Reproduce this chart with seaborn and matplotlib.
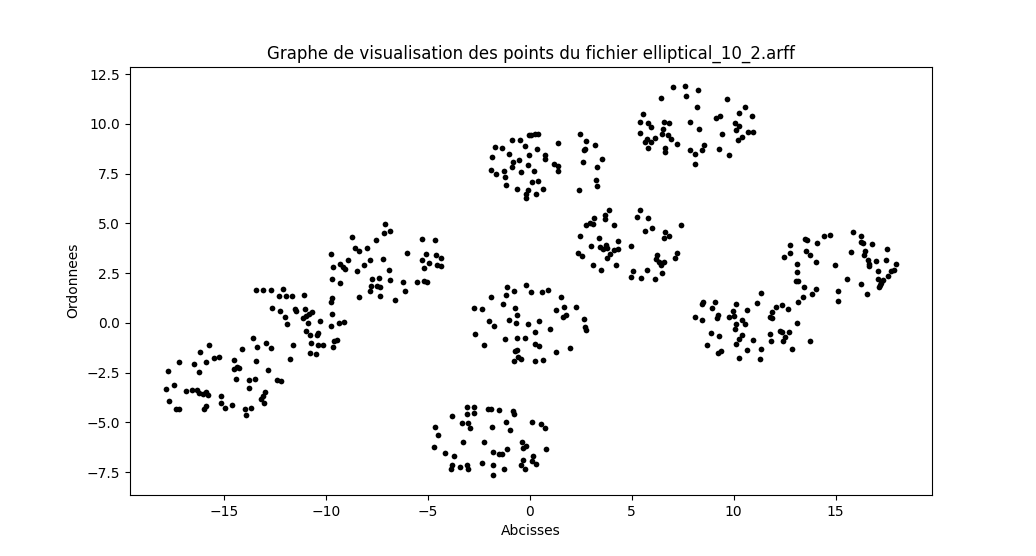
import matplotlib
matplotlib.use("Agg")
import matplotlib.pyplot as plt
import seaborn as sns
import pandas as pd

# Cluster near (0, 8)
x_c1 = [-0.86, -0.47, -0.05, -1.70, -1.35, -0.22, -1.84, -1.01, -0.05, -0.81, -0.52, -0.86, -0.09,
        -1.89, -1.63, -1.25, -0.42, -1.21, -1.16, -0.62, -0.09, -0.16, -0.19,
        0.08, 0.28, 0.39, 0.36, 0.75, 0.75, 1.39, 1.18, 1.39, 1.39, 0.20, 0.13, 0.41, 0.29, 0.65,
        2.47, 2.76, 3.20, 2.73, 2.66, 3.55, 2.61, 3.30, 3.25, 3.30, 2.42]
y_c1 = [9.19, 9.19, 9.44, 8.82, 8.79, 8.87, 8.32, 8.47, 8.42, 8.07, 8.17, 7.83, 7.92,
        7.67, 7.47, 7.62, 7.57, 7.32, 6.91, 6.71, 6.66, 6.46, 6.26,
        9.44, 9.49, 9.49, 8.74, 8.42, 8.22, 9.02, 7.97, 7.87, 7.62, 7.62, 7.06, 7.11, 6.49, 6.71,
        9.48, 9.14, 8.92, 8.72, 8.67, 8.22, 8.07, 7.83, 7.17, 6.86, 6.66]

# Cluster near (7.5, 10)
x_c2 = [7.03, 7.61, 8.27, 7.66, 6.45, 9.69, 8.20, 5.56, 5.41, 5.82, 5.93, 6.58, 6.83, 6.54, 7.86,
        8.30, 9.15, 9.33, 5.41, 6.47, 6.78, 9.43, 5.75, 6.14, 5.65, 5.96, 5.82, 6.94, 7.22, 6.63,
        6.63, 7.86, 8.55, 8.43, 8.10, 9.28, 8.10, 9.77,
        10.55, 10.27, 10.89, 10.05, 10.27, 10.11, 10.72, 10.94, 10.42, 10.22]
y_c2 = [11.84, 11.89, 11.69, 11.39, 11.29, 11.24, 10.83, 10.48, 10.08, 10.05, 9.83, 10.08, 10.03, 9.76, 10.08,
        9.73, 10.28, 10.38, 9.53, 9.48, 9.46, 9.48, 9.26, 9.31, 9.07, 9.07, 8.77, 9.23, 9.01, 8.79,
        8.57, 8.67, 8.92, 8.67, 8.47, 8.72, 7.97, 8.42,
        10.83, 10.53, 10.38, 10.05, 9.88, 9.68, 9.58, 9.58, 9.33, 9.17]

# Clusters near (-11.5, 0) and (-7, 3)
x_c3 = [-13.40, -13.07, -12.68, -12.09, -12.29, -11.95, -11.65, -11.06, -12.63, -12.24, -11.51, -11.46,
        -11.02, -10.69, -10.82, -10.97, -11.11, -11.99, -11.90, -10.87, -10.28, -10.97, -10.77, -10.43,
        -10.38, -13.56, -13.35, -12.91, -12.67, -11.60, -10.71, -10.38, -10.13, -14.10, -15.72, -16.16,
        -10.77, -10.46]
y_c3 = [1.64, 1.64, 1.64, 1.69, 1.34, 1.36, 1.34, 1.39, 0.74, 0.60, 0.69, 0.59,
        0.69, 0.54, 0.44, 0.34, 0.25, 0.29, -0.07, -0.02, 0.09, -0.42, -0.62, -0.62,
        -0.52, -0.77, -1.22, -1.02, -1.27, -1.12, -1.02, -1.09, -1.09, -1.32, -1.12, -1.47,
        -1.52, -1.57]

x_c4 = [-7.09, -7.15, -6.84, -8.71, -7.53, -8.57, -8.36, -7.97, -5.27, -4.64, -6.01, -5.08, -4.59,
        -4.34, -5.27, -4.93, -4.54, -4.34, -5.18, -9.75, -8.90, -9.29, -9.15, -9.05, -9.64, -8.12,
        -7.82, -7.19, -8.46, -6.89, -9.69, -9.29, -7.72, -7.38, -6.84, -6.21, -5.52, -5.18, -5.06,
        -7.77, -7.48, -7.32, -7.82, -6.11, -8.36, -7.33, -6.60, -9.69, -9.75, -9.69, -9.34, -9.10,
        -9.75, -9.44, -9.59, -9.64]
y_c4 = [4.96, 4.51, 4.61, 4.31, 4.16, 3.75, 3.60, 3.75, 4.21, 4.16, 3.50, 3.45, 3.40,
        3.25, 3.15, 3.00, 2.90, 2.85, 2.75, 3.45, 3.15, 2.95, 2.80, 2.70, 2.80, 2.90,
        3.15, 3.20, 2.60, 2.65, 2.20, 1.99, 2.20, 2.25, 2.15, 2.05, 2.05, 2.10, 2.05,
        1.84, 1.84, 1.79, 1.59, 1.59, 1.29, 1.34, 1.14, 1.24, 1.04, 0.44, -0.01, 0.04,
        -0.17, -0.87, -0.92, -1.22]

# Cluster near (0, 0)
x_c5 = [-0.18, -1.11, -0.76, -1.89, -1.16, -2.72, -2.33, -1.30, -0.71, -0.62, -1.04, -0.67, -1.99,
        -1.74, -0.09, -2.68, -2.25, -1.19, -0.62, -0.22, -0.71, -0.62,
        0.08, 0.60, 0.90, 1.54, 1.29, 1.68, 2.27, 1.63, 1.78, 2.66, 2.71, 2.76, 0.46, 0.26, 1.00,
        0.26, 0.46, 1.29, 1.98, -0.76, -0.57, -0.42, 0.26, 0.65]
y_c5 = [1.89, 1.79, 1.59, 1.29, 1.39, 0.74, 0.69, 0.94, 0.74, 0.39, 0.14, -0.01, 0.09,
        -0.17, -0.07, -0.57, -1.12, -0.82, -0.77, -0.77, -1.42, -1.37,
        1.54, 1.54, 1.64, 1.29, 0.64, 0.79, 0.79, 0.29, 0.39, 0.19, -0.22, -0.37, 0.09, -0.47, -0.32,
        -1.07, -1.17, -1.47, -1.27, -1.93, -1.73, -1.83, -1.93, -1.88]

# Cluster near (4.5, 4)
x_c6 = [3.89, 5.41, 3.69, 3.69, 3.15, 2.76, 2.96, 3.10, 4.13, 5.26, 5.82, 5.65, 6.00, 6.63, 6.83,
        6.58, 7.42, 2.47, 3.40, 3.01, 3.46, 3.74, 3.59, 3.79, 4.33, 4.33, 4.13, 4.97, 3.94, 3.79,
        2.37, 2.57, 3.10, 3.50, 4.23, 6.24, 6.19, 6.34, 6.58, 6.44, 7.22, 7.12, 5.07, 4.97, 5.46,
        5.75, 6.14, 6.49]
y_c6 = [5.68, 5.68, 5.40, 5.24, 5.29, 4.94, 5.04, 4.99, 4.94, 5.34, 5.29, 4.61, 4.76, 4.56, 4.36,
        4.26, 4.91, 4.36, 4.26, 3.85, 3.80, 3.90, 3.70, 3.75, 4.11, 3.70, 3.65, 3.85, 3.45, 3.25,
        3.50, 3.35, 2.90, 2.65, 2.90, 3.40, 3.20, 3.05, 3.05, 2.90, 3.50, 3.25, 2.60, 2.30, 2.25,
        2.65, 2.20, 2.50]

# Cluster near (10.5, 0)
x_c7 = [8.50, 8.45, 9.08, 8.94, 8.10, 8.45, 9.23, 9.18, 9.77, 8.89, 9.28, 8.69, 9.38, 9.23,
        11.34, 11.14, 10.11, 9.96, 10.65, 10.01, 10.40, 10.55, 10.11, 10.06, 12.37, 12.07, 11.88,
        12.66, 11.78, 11.88, 13.10, 10.40, 10.26, 10.11, 10.94, 10.65, 11.34, 11.78, 11.83, 12.27,
        12.37, 12.51, 12.41, 12.71, 12.86, 13.74, 10.26, 11.29]
y_c7 = [1.04, 0.94, 1.04, 0.74, 0.29, 0.14, 0.39, 0.24, 0.29, -0.52, -0.67, -1.12, -1.42, -1.52,
        1.49, 0.99, 0.94, 0.59, 0.64, 0.34, 0.14, -0.07, -0.07, -0.32, 0.89, 0.79, 0.54,
        0.69, 0.29, 0.24, -0.02, -0.62, -0.82, -1.07, -0.87, -1.37, -1.32, -0.57, -0.92, -0.42,
        -0.47, -0.72, -0.92, -0.47, -1.32, -0.92, -1.78, -1.83]

# Cluster near (15, 3)
x_c8 = [15.85, 16.24, 16.24, 16.34, 16.78, 17.51, 15.75, 16.43, 16.38, 16.58, 16.97, 17.46, 16.63,
        16.63, 17.95, 17.07, 17.71, 17.86, 17.56, 17.07, 17.32, 17.22, 17.17, 17.12, 15.55, 16.24,
        16.53, 14.96, 15.11, 15.11, 14.42, 14.72, 13.49, 13.59, 14.08, 12.76, 12.76, 12.46, 13.54,
        13.74, 14.03, 13.10, 13.10, 13.05, 13.15, 13.44, 14.03, 13.84, 13.39, 13.15]
y_c8 = [4.56, 4.36, 4.06, 4.01, 3.95, 3.70, 3.55, 3.60, 3.40, 3.15, 3.10, 3.15, 2.95,
        2.85, 2.95, 2.60, 2.60, 2.65, 2.35, 2.20, 2.15, 1.99, 1.89, 1.79, 2.20, 1.94,
        1.44, 2.90, 1.59, 1.09, 4.36, 4.41, 4.21, 4.16, 4.01, 3.90, 3.50, 3.30, 3.60,
        3.40, 3.05, 2.95, 2.55, 2.10, 2.10, 1.79, 1.69, 1.44, 1.29, 1.04]

# Cluster near (-15, -3)
x_c9 = [-17.19, -17.73, -16.46, -15.87, -16.21, -15.48, -15.23, -14.50, -14.50, -14.35, -14.25, -13.42,
        -12.83, -11.75, -14.40, -13.76, -13.47, -13.76, -12.39, -12.19, -17.83, -17.44, -16.85, -16.55,
        -16.31, -16.21, -16.02, -15.87, -15.77, -17.68, -17.34, -17.19, -15.13, -15.13, -14.94, -14.59,
        -15.97, -15.87, -13.96, -13.66, -13.91, -13.17, -13.08, -12.98, -13.03]
y_c9 = [-1.98, -2.43, -2.08, -1.98, -2.48, -1.78, -1.73, -1.88, -2.33, -2.23, -2.28, -1.93,
        -2.38, -1.83, -2.83, -2.88, -2.83, -3.29, -2.88, -2.93, -3.34, -3.13, -3.44, -3.39,
        -3.39, -3.54, -3.59, -3.49, -3.64, -3.94, -4.34, -4.34, -3.69, -4.04, -4.29, -4.14,
        -4.34, -4.19, -4.34, -4.29, -4.64, -3.84, -3.69, -3.49, -4.04]

# Cluster near (-2, -6)
x_c10 = [-3.07, -2.72, -2.72, -3.07, -2.04, -1.89, -1.50, -0.81, -0.76, -3.80, -3.31, -3.02, -2.92,
         -1.84, -1.16, -0.96, -4.64, -4.49, -3.26, -2.23, -0.37, -0.32, -0.18, -4.69, -4.15, -3.71,
         -1.79, -1.50, -1.35, -1.11, -0.32, -0.42, -0.22, -3.80, -3.85, -3.41, -3.07, -3.02, -2.33,
         -1.79, -1.25, -1.79, 0.11, 0.56, 0.75, 0.80, 0.16, 0.11, 0.31]
y_c10 = [-4.24, -4.24, -4.54, -4.59, -4.34, -4.34, -4.39, -4.44, -4.59, -4.69, -5.04, -5.04, -5.30,
         -5.25, -4.99, -5.40, -5.25, -5.65, -6.00, -6.00, -6.00, -6.30, -6.20, -6.25, -6.55, -6.70,
         -6.50, -6.60, -6.60, -6.35, -6.90, -7.15, -7.36, -7.15, -7.36, -7.26, -7.15, -7.36, -7.05,
         -7.15, -7.36, -7.66, -4.99, -5.09, -5.30, -6.35, -6.70, -6.95, -7.10]

xs = x_c1 + x_c2 + x_c3 + x_c4 + x_c5 + x_c6 + x_c7 + x_c8 + x_c9 + x_c10
ys = y_c1 + y_c2 + y_c3 + y_c4 + y_c5 + y_c6 + y_c7 + y_c8 + y_c9 + y_c10
df = pd.DataFrame({"x": xs, "y": ys})

fig, ax = plt.subplots(figsize=(10.36, 5.56), dpi=100)
sns.scatterplot(data=df, x="x", y="y", color="black", s=17, linewidth=0, ax=ax)
ax.set_title("Graphe de visualisation des points du fichier elliptical_10_2.arff")
ax.set_xlabel("Abcisses")
ax.set_ylabel("Ordonnees")
fig.savefig("out.png", dpi=100)
